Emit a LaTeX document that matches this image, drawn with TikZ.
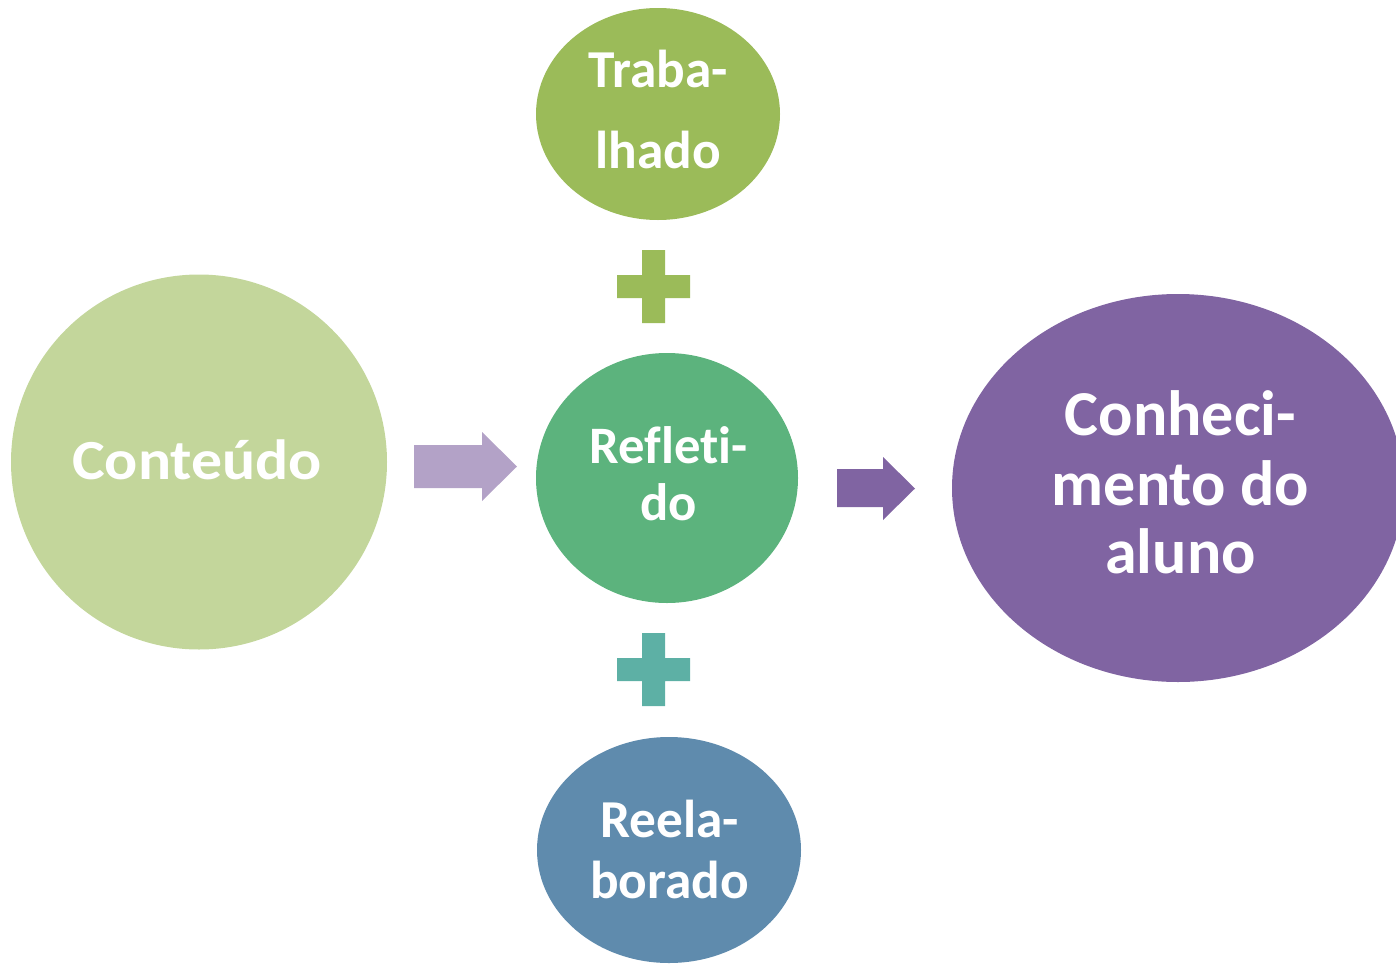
\documentclass[tikz,border=0pt]{standalone}
\usepackage{fontspec}
\setmainfont{Carlito}[Ligatures={NoCommon,NoContextual}]
\usetikzlibrary{shapes.geometric}
\definecolor{cConteudo}{HTML}{C3D69B}
\definecolor{cTrab}{HTML}{9BBB59}
\definecolor{cRef}{HTML}{5CB37D}
\definecolor{cReel}{HTML}{5F8BAD}
\definecolor{cConh}{HTML}{8064A2}
\definecolor{cArrowA}{HTML}{B3A2C7}
\definecolor{cPlusB}{HTML}{5DB0A5}
\tikzset{
  blob/.style={ellipse, draw=none, inner sep=0pt},
  txt/.style={anchor=base, inner sep=0pt, text=white, font=\bfseries},
}
\newcommand{\plusshape}[3]{% center x, center y, colour
  \fill[#3] ({#1-11.5},{#2-36.5}) -- ({#1+11.5},{#2-36.5}) -- ({#1+11.5},{#2-11.5}) -- ({#1+36.5},{#2-11.5})
    -- ({#1+36.5},{#2+11.5}) -- ({#1+11.5},{#2+11.5}) -- ({#1+11.5},{#2+36.5}) -- ({#1-11.5},{#2+36.5})
    -- ({#1-11.5},{#2+11.5}) -- ({#1-36.5},{#2+11.5}) -- ({#1-36.5},{#2-11.5}) -- ({#1-11.5},{#2-11.5}) -- cycle;}
\begin{document}
\begin{tikzpicture}[x=0.75pt,y=-0.75pt]
\useasboundingbox (0,0) rectangle (1396,964);
\clip (0,0) rectangle (1396,964);
% ellipses
\node[blob, fill=cConteudo, minimum width=282pt, minimum height=281.25pt] (conteudo) at (199,462) {};
\node[blob, fill=cTrab, minimum width=183pt, minimum height=159pt] (trab) at (658,114) {};
\node[blob, fill=cRef, minimum width=196.5pt, minimum height=187.5pt] (ref) at (667,478) {};
\node[blob, fill=cReel, minimum width=198pt, minimum height=169.5pt] (reel) at (669,850) {};
\node[blob, fill=cConh, minimum width=339pt, minimum height=291pt] (conh) at (1178,488) {};
% arrows
\fill[cArrowA] (414,445) -- (482,445) -- (482,432) -- (517,466.5) -- (482,501) -- (482,488) -- (414,488) -- cycle;
\fill[cConh] (837,469) -- (883,469) -- (883,457) -- (915,488.5) -- (883,520) -- (883,507) -- (837,507) -- cycle;
% plus signs
\plusshape{653.5}{286.5}{cTrab}
\plusshape{653.5}{669.5}{cPlusB}
% texts
\node[txt, font=\bfseries\fontsize{42.5pt}{50pt}\selectfont] (t-cont) at (197,479) {\scalebox{1.09}[1]{Conteúdo}};
\node[txt, font=\bfseries\fontsize{40pt}{48pt}\selectfont] (t-trab1) at (658.5,87) {Traba-};
\node[txt, font=\bfseries\fontsize{40pt}{48pt}\selectfont] (t-trab2) at (658.5,168) {lhado};
\node[txt, font=\bfseries\fontsize{39.5pt}{47pt}\selectfont] (t-ref1) at (668.5,463) {Refleti-};
\node[txt, font=\bfseries\fontsize{39.5pt}{47pt}\selectfont] (t-ref2) at (668.5,520) {do};
\node[txt, font=\bfseries\fontsize{40pt}{48pt}\selectfont] (t-reel1) at (669.5,837) {Reela-};
\node[txt, font=\bfseries\fontsize{40pt}{48pt}\selectfont] (t-reel2) at (669.5,898) {borado};
\node[txt, font=\bfseries\fontsize{48pt}{57pt}\selectfont] (t-conh1) at (1180.5,435) {Conheci-};
\node[txt, font=\bfseries\fontsize{48pt}{57pt}\selectfont] (t-conh2) at (1180.5,505) {mento do};
\node[txt, font=\bfseries\fontsize{48pt}{57pt}\selectfont] (t-conh3) at (1180.5,573) {aluno};
\end{tikzpicture}
\end{document}
